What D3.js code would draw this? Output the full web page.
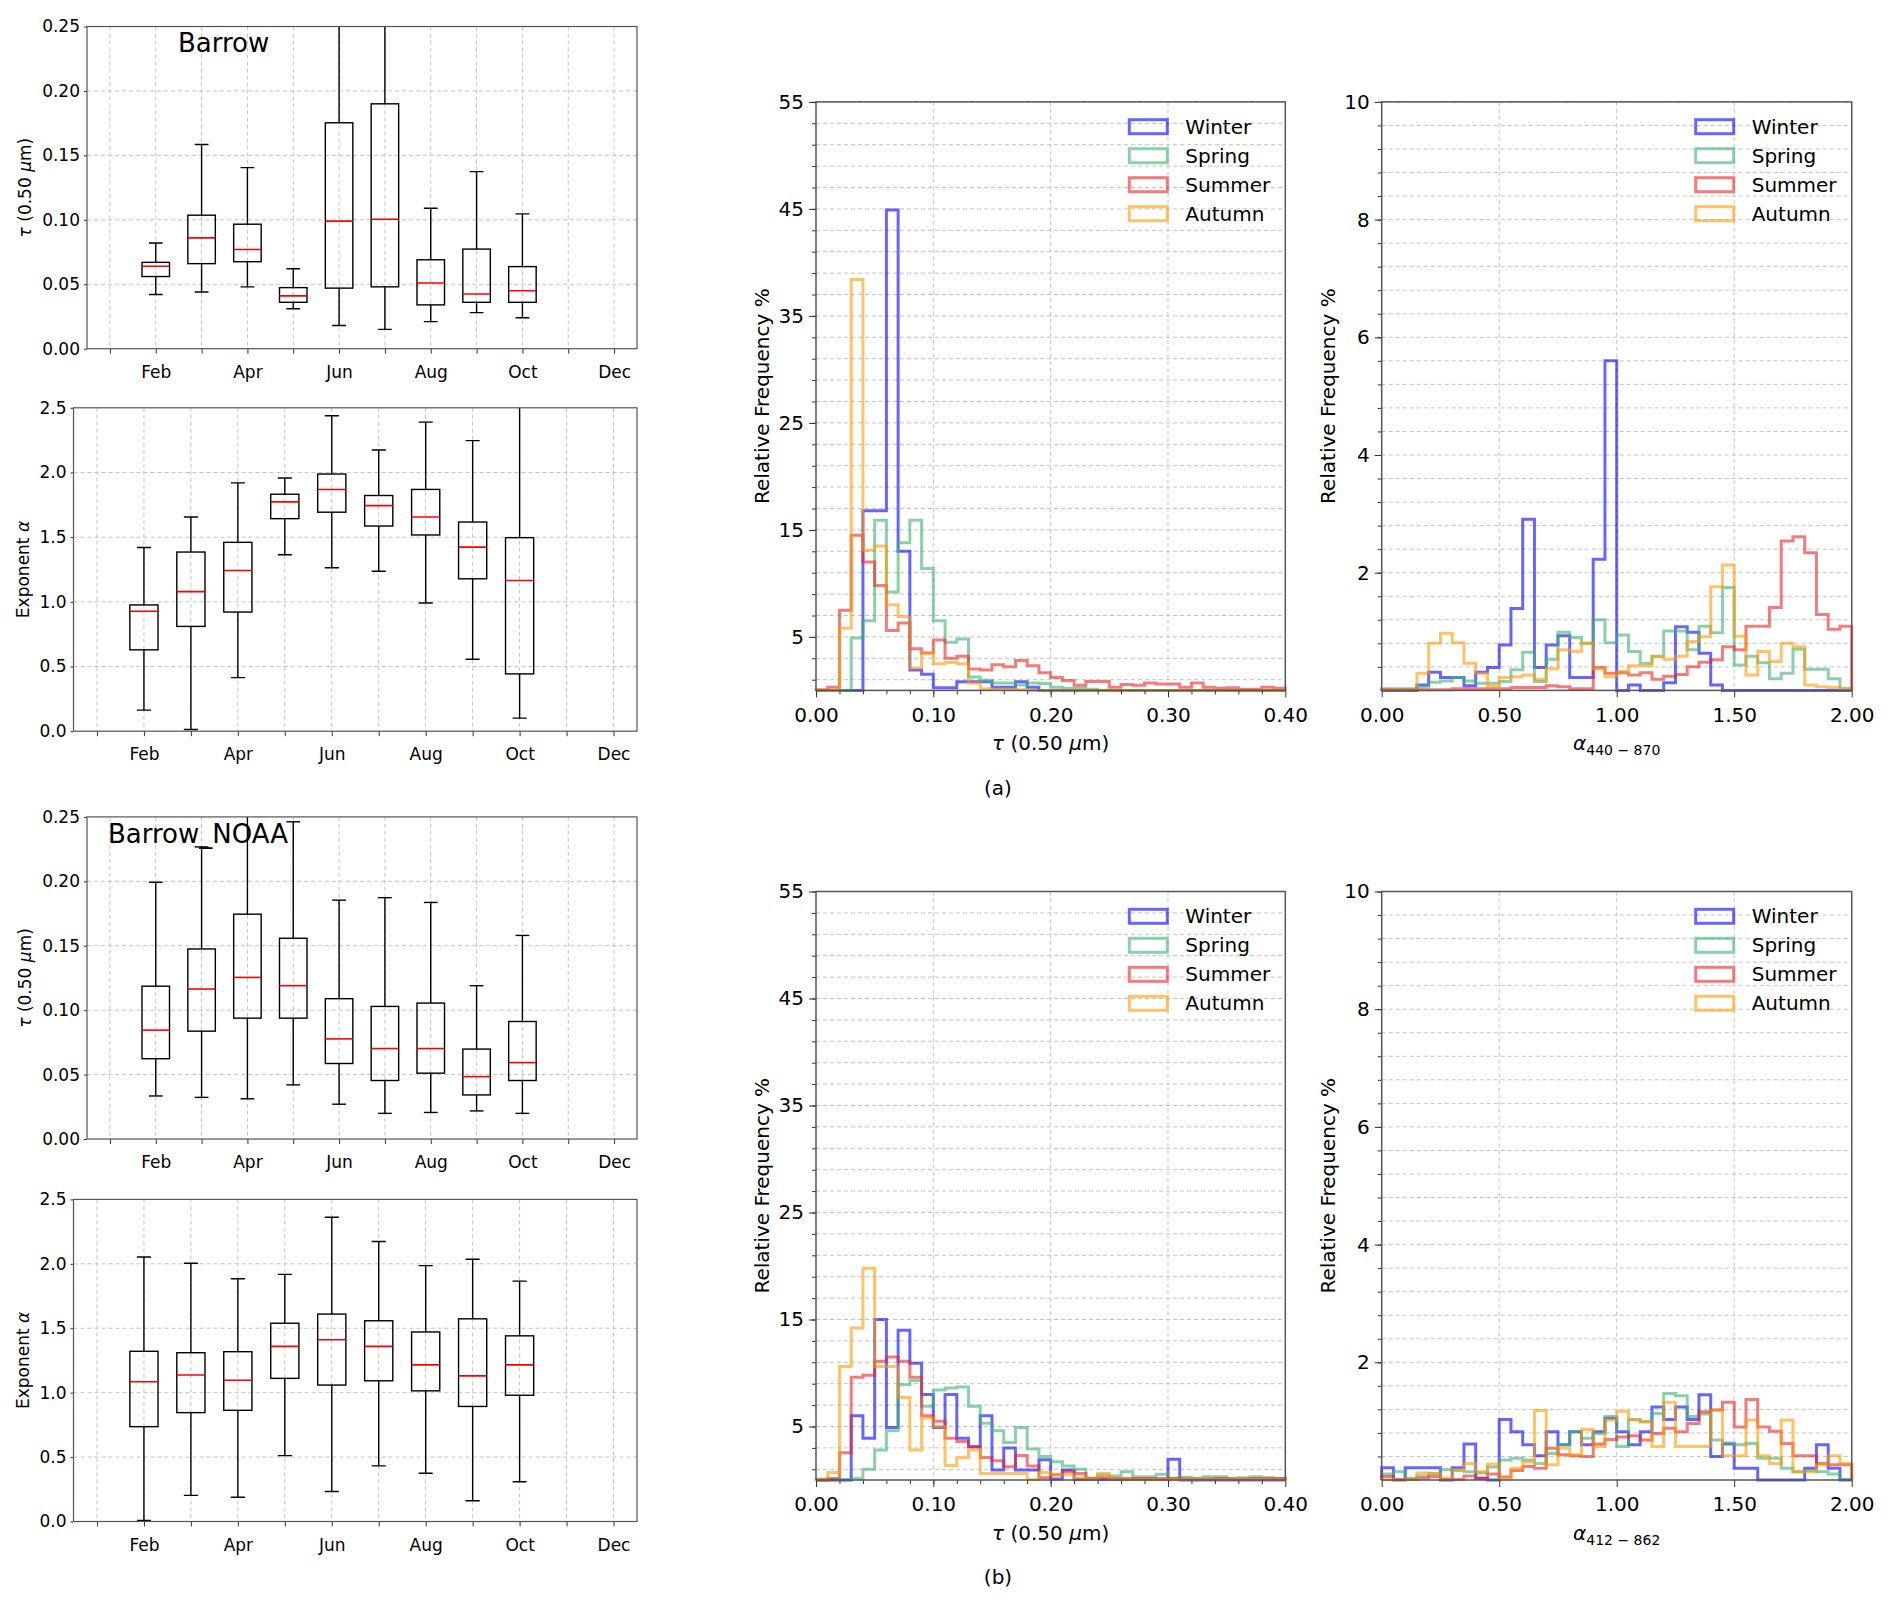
<!DOCTYPE html>
<meta charset="utf-8">
<style>
body { margin: 0; background: #fff; }
text { font-family: "DejaVu Sans", sans-serif; fill: #000; }
.grid line { stroke: #c4c4c4; stroke-dasharray: 4,3; stroke-width: 1; }
.axis path { display: none; }
.axis line { stroke: #333; }
.frame { fill: none; stroke: #555; stroke-width: 1.5; }
</style>
<body>
<script src="https://d3js.org/d3.v7.min.js"></script>
<script>
// ---- box plot data (months Feb..Oct) ----
var boxMonths = [2, 3, 4, 5, 6, 7, 8, 9, 10];
var monthNames = ["Jan","Feb","Mar","Apr","May","Jun","Jul","Aug","Sep","Oct","Nov","Dec"];

var barrowTauLo  = [0.042, 0.044, 0.048, 0.031, 0.018, 0.015, 0.021, 0.028, 0.024];
var barrowTauQ1  = [0.056, 0.066, 0.0675, 0.036, 0.047, 0.048, 0.034, 0.036, 0.036];
var barrowTauMed = [0.064, 0.086, 0.077, 0.041, 0.099, 0.1005, 0.051, 0.0425, 0.045];
var barrowTauQ3  = [0.067, 0.1036, 0.0966, 0.0474, 0.1753, 0.19, 0.069, 0.0773, 0.0637];
var barrowTauHi  = [0.082, 0.1585, 0.1405, 0.062, 0.31, 0.33, 0.109, 0.1374, 0.1046];

var barrowAlpLo  = [0.163, 0.013, 0.414, 1.364, 1.263, 1.237, 0.991, 0.556, 0.101];
var barrowAlpQ1  = [0.629, 0.81, 0.921, 1.643, 1.693, 1.586, 1.517, 1.178, 0.443];
var barrowAlpMed = [0.927, 1.079, 1.242, 1.773, 1.869, 1.744, 1.656, 1.423, 1.165];
var barrowAlpQ3  = [0.976, 1.385, 1.46, 1.832, 1.988, 1.822, 1.869, 1.617, 1.496];
var barrowAlpHi  = [1.42, 1.656, 1.92, 1.957, 2.438, 2.174, 2.389, 2.246, 2.9];

var noaaTauLo  = [0.0334, 0.0323, 0.0312, 0.042, 0.027, 0.0199, 0.0206, 0.0218, 0.0199];
var noaaTauQ1  = [0.0623, 0.0837, 0.0938, 0.0938, 0.0586, 0.0454, 0.0511, 0.0342, 0.0454];
var noaaTauMed = [0.0845, 0.1164, 0.1254, 0.119, 0.0777, 0.0702, 0.0702, 0.0484, 0.0593];
var noaaTauQ3  = [0.1186, 0.1475, 0.1745, 0.1558, 0.1089, 0.1029, 0.1055, 0.0698, 0.0912];
var noaaTauHi  = [0.1993, 0.2267, 0.28, 0.2462, 0.1854, 0.1873, 0.1836, 0.119, 0.158];

var noaaAlpLo  = [0.008, 0.203, 0.188, 0.511, 0.233, 0.432, 0.375, 0.161, 0.308];
var noaaAlpQ1  = [0.736, 0.845, 0.863, 1.111, 1.059, 1.092, 1.014, 0.893, 0.98];
var noaaAlpMed = [1.085, 1.137, 1.096, 1.359, 1.411, 1.359, 1.216, 1.13, 1.216];
var noaaAlpQ3  = [1.321, 1.31, 1.318, 1.539, 1.61, 1.558, 1.471, 1.573, 1.441];
var noaaAlpHi  = [2.053, 2.005, 1.884, 1.918, 2.361, 2.173, 1.986, 2.035, 1.866];

// ---- histogram data, relative frequency %, 40 bins each ----
var seasons = ["Winter", "Spring", "Summer", "Autumn"];

// tau bins of 0.01 from 0 to 0.40, panel (a)
var tauA_winter = [0,0,0,0,16.8,16.8,44.9,13.0,1.9,1.5,0.25,0.25,0.8,0.8,0.8,0.3,0.3,0.8,0.3,0,0,0,0,0,0,0,0,0,0,0,0,0,0,0,0,0,0,0,0,0];
var tauA_spring = [0,0,0,4.9,6.5,15.9,9.2,13.8,15.9,11.4,6.5,4.5,4.8,1.25,0.95,0.7,0.7,0.5,0.7,0.65,0.3,0.2,0.2,0.1,0,0,0,0,0,0,0,0,0,0,0,0,0,0,0,0];
var tauA_summer = [0.05,0.3,7.5,14.5,12.0,9.8,5.6,6.3,3.9,3.5,4.7,3.0,3.2,2.0,1.9,2.4,2.2,2.8,2.3,1.65,1.2,0.93,0.47,0.84,0.84,0.3,0.56,0.47,0.7,0.6,0.6,0.3,0.7,0.3,0.2,0.25,0.1,0.1,0.3,0.2];
var tauA_autumn = [0,0,5.8,38.4,13.1,13.5,8.0,6.9,2.1,3.5,2.5,2.6,2.5,0.7,0.15,0.1,0.1,0.05,0,0,0,0,0,0,0,0,0,0,0,0,0,0,0,0,0,0,0,0,0,0];

// alpha 440-870 bins of 0.05 from 0 to 2, panel (a)
var alpA_winter = [0,0,0,0.09,0.31,0.22,0.22,0.08,0.31,0.39,0.77,1.39,2.91,0.39,0.77,0.93,0.22,0.22,2.23,5.6,0,0.09,0,0,0.13,1.08,0.99,0.63,0.09,0,0,0,0,0,0,0,0,0,0,0];
var alpA_spring = [0.03,0.03,0.03,0.06,0.14,0.16,0.22,0.16,0.12,0.12,0.15,0.35,0.65,0.15,0.53,0.99,0.9,0.8,1.2,0.81,0.94,0.66,0.46,0.58,1.01,1.01,0.69,1.09,0.98,1.75,0.43,0.58,0.47,0.2,0.29,0.7,0.36,0.36,0.2,0.03];
var alpA_summer = [0.01,0.01,0.01,0.01,0.01,0.01,0.03,0.03,0.03,0.03,0.03,0.05,0.05,0.05,0.08,0.06,0.03,0.03,0.39,0.29,0.3,0.26,0.3,0.19,0.24,0.27,0.4,0.48,0.52,0.74,0.69,1.09,1.09,1.41,2.54,2.61,2.34,1.29,1.04,1.09];
var alpA_autumn = [0.01,0.01,0.01,0.29,0.8,0.97,0.81,0.46,0.29,0.07,0.22,0.23,0.26,0.19,0.37,0.69,0.66,0.8,0.37,0.23,0.32,0.42,0.42,0.57,0.53,0.58,0.83,0.91,1.76,2.13,0.92,0.26,0.66,0.49,0.8,0.74,0.09,0.06,0.05,0.03];

// panel (b)
var tauB_winter = [0,0,0,6.0,3.9,15.0,4.9,14.0,10.9,8.0,4.9,8.0,3.9,3.1,6.0,0.93,3.0,0.93,0.93,1.9,0.1,0.93,0.05,0.05,0.05,0.05,0.05,0.05,0.05,0.05,1.93,0,0,0,0,0,0,0,0,0];
var tauB_spring = [0,0,0,0.15,1.0,2.8,4.6,8.9,9.3,6.9,8.4,8.6,8.7,6.9,5.3,4.6,3.5,4.9,2.9,2.2,1.7,1.3,1.0,0.16,0.47,0.37,0.78,0.3,0.3,0.53,0.16,0.25,0.16,0.3,0.3,0.16,0.2,0.3,0.2,0.15];
var tauB_summer = [0,0.15,2.55,9.6,9.8,11.1,11.5,11.1,9.6,6.0,5.5,3.9,3.6,3.1,2.1,1.8,1.25,2.3,1.3,0.2,0.5,0.78,0.6,0.15,0.2,0.15,0.15,0.15,0.15,0.15,0.15,0.1,0.1,0.1,0.15,0.1,0.1,0.15,0.15,0.15];
var tauB_autumn = [0.1,0.7,10.6,14.2,19.8,10.6,10.6,7.7,2.8,5.8,5.0,1.35,2.1,2.8,0.6,0.6,0.6,0.6,0.05,0.7,0.5,0.5,0.2,0.1,0.6,0.1,0.05,0.05,0.05,0.05,0.05,0.05,0.05,0.05,0.05,0.05,0.05,0.05,0.05,0.05];

// alpha 412-862
var alpB_winter = [0.21,0,0.21,0.21,0.21,0,0.21,0.61,0.03,0,1.03,0.82,0.6,0.41,0.82,0.6,0.82,0.6,0.82,1.05,0.82,0.6,0.82,1.24,1.03,1.24,1.03,1.45,0.4,0.61,0.2,0.2,0,0,0,0,0.2,0.6,0.2,0];
var alpB_spring = [0.1,0.14,0.03,0.07,0.11,0.18,0.16,0.14,0.12,0.22,0.34,0.37,0.34,0.28,0.45,0.6,0.82,0.71,0.79,1.08,0.57,1.03,0.99,1.13,1.47,1.43,1.08,1.12,0.68,0.63,0.6,0.62,0.37,0.37,0.2,0.14,0.16,0.14,0.1,0.01];
var alpB_summer = [0.06,0.01,0.01,0.03,0.06,0.01,0.01,0.07,0.03,0.1,0.05,0.16,0.23,0.2,0.54,0.43,0.41,0.4,0.61,0.69,0.73,0.75,0.68,0.79,0.88,0.82,0.96,1.16,1.19,1.32,0.9,1.37,0.9,0.83,0.62,0.41,0.41,0.28,0.26,0.26];
var alpB_autumn = [0.01,0.01,0.01,0.12,0.1,0.03,0.17,0.28,0.14,0.27,0.03,0.2,0.31,1.18,0.26,0.54,0.43,0.86,0.57,1.02,1.17,1.02,0.99,0.57,1.32,0.57,0.57,0.57,1.19,0.41,0.41,1.02,0.41,0.28,1.02,0.14,0.14,0.26,0.41,0.28];

var seasonColors = ["#0000ff", "#3cb371", "#ee2222", "#ff9900"];

var svg = d3.select("body").append("svg")
    .attr("width", 1892)
    .attr("height", 1608);
svg.append("rect").attr("width", 1892).attr("height", 1608).attr("fill", "#fff");

var clipId = 0;

// ---------- box plot panel ----------
function drawBoxPanel(p, lo, q1, med, q3, hi) {
  var x = d3.scaleLinear().domain([0.5, 12.5]).range([p.left, p.right]);
  var y = d3.scaleLinear().domain([0, p.ymax]).range([p.bottom, p.top]);
  var g = svg.append("g");

  // grid
  g.append("g").attr("class", "grid").selectAll("line")
      .data(p.yTicks.slice(1, -1)).join("line")
      .attr("x1", p.left).attr("x2", p.right)
      .attr("y1", d => y(d)).attr("y2", d => y(d));
  g.append("g").attr("class", "grid").selectAll("line")
      .data(d3.range(1, 13)).join("line")
      .attr("x1", d => x(d)).attr("x2", d => x(d))
      .attr("y1", p.top).attr("y2", p.bottom);

  var id = "clip" + (clipId++);
  svg.append("clipPath").attr("id", id).append("rect")
      .attr("x", p.left).attr("y", p.top)
      .attr("width", p.right - p.left).attr("height", p.bottom - p.top);
  var b = g.append("g").attr("clip-path", "url(#" + id + ")");

  var rows = boxMonths.map((m, i) => ({m: m, lo: lo[i], q1: q1[i], med: med[i], q3: q3[i], hi: hi[i]}));
  var bw = 0.3, cw = 0.15;
  var grp = b.selectAll("g.box").data(rows).join("g").attr("class", "box");
  grp.append("line").attr("x1", d => x(d.m)).attr("x2", d => x(d.m))
      .attr("y1", d => y(d.q3)).attr("y2", d => y(d.hi))
      .attr("stroke", "#000").attr("stroke-width", 1.4);
  grp.append("line").attr("x1", d => x(d.m)).attr("x2", d => x(d.m))
      .attr("y1", d => y(d.q1)).attr("y2", d => y(d.lo))
      .attr("stroke", "#000").attr("stroke-width", 1.4);
  grp.append("line").attr("x1", d => x(d.m - cw)).attr("x2", d => x(d.m + cw))
      .attr("y1", d => y(d.hi)).attr("y2", d => y(d.hi))
      .attr("stroke", "#000").attr("stroke-width", 1.4);
  grp.append("line").attr("x1", d => x(d.m - cw)).attr("x2", d => x(d.m + cw))
      .attr("y1", d => y(d.lo)).attr("y2", d => y(d.lo))
      .attr("stroke", "#000").attr("stroke-width", 1.4);
  grp.append("rect").attr("x", d => x(d.m - bw)).attr("width", d => x(d.m + bw) - x(d.m - bw))
      .attr("y", d => y(d.q3)).attr("height", d => y(d.q1) - y(d.q3))
      .attr("fill", "none").attr("stroke", "#000").attr("stroke-width", 1.4);
  grp.append("line").attr("x1", d => x(d.m - bw)).attr("x2", d => x(d.m + bw))
      .attr("y1", d => y(d.med)).attr("y2", d => y(d.med))
      .attr("stroke", "#ff0000").attr("stroke-width", 1.6);

  // axes
  var ax = g.append("g").attr("class", "axis")
      .attr("transform", "translate(0," + p.bottom + ")")
      .call(d3.axisBottom(x).tickValues(d3.range(1, 13))
        .tickFormat(m => m % 2 === 0 ? monthNames[m - 1] : "")
        .tickSize(5).tickPadding(12));
  ax.selectAll("text").style("font-size", "17px");
  var ay = g.append("g").attr("class", "axis")
      .attr("transform", "translate(" + p.left + ",0)")
      .call(d3.axisLeft(y).tickValues(p.yTicks).tickFormat(d3.format(p.fmt))
        .tickSize(3).tickPadding(4));
  ay.selectAll("text").style("font-size", "17px");

  g.append("rect").attr("class", "frame")
      .attr("x", p.left).attr("y", p.top)
      .attr("width", p.right - p.left).attr("height", p.bottom - p.top)
      .style("stroke-width", 1.2);

  var yl = g.append("text")
      .attr("transform", "translate(" + p.ylabX + "," + ((p.top + p.bottom) / 2) + ") rotate(-90)")
      .attr("text-anchor", "middle").style("font-size", "17px");
  p.ylabParts.forEach(function (s) {
    yl.append("tspan").style("font-style", s[1] ? "italic" : "normal").text(s[0]);
  });

  if (p.title) {
    g.append("text").attr("x", p.titleX).attr("y", p.titleY)
      .style("font-size", "26px").text(p.title);
  }
}

var tauLab = [["τ", true], [" (0.50 ", false], ["μ", true], ["m)", false]];
var alpLab = [["Exponent ", false], ["α", true]];
var tauTicks = [0, 0.05, 0.10, 0.15, 0.20, 0.25];
var alpTicks = [0, 0.5, 1.0, 1.5, 2.0, 2.5];

drawBoxPanel({left: 87, right: 637, top: 26.5, bottom: 348.7, ymax: 0.25, yTicks: tauTicks, fmt: ".2f",
  ylabX: 31, ylabParts: tauLab, title: "Barrow", titleX: 178, titleY: 52},
  barrowTauLo, barrowTauQ1, barrowTauMed, barrowTauQ3, barrowTauHi);
drawBoxPanel({left: 73.5, right: 637, top: 407.8, bottom: 731.2, ymax: 2.5, yTicks: alpTicks, fmt: ".1f",
  ylabX: 29, ylabParts: alpLab},
  barrowAlpLo, barrowAlpQ1, barrowAlpMed, barrowAlpQ3, barrowAlpHi);
drawBoxPanel({left: 87, right: 637, top: 816.9, bottom: 1139, ymax: 0.25, yTicks: tauTicks, fmt: ".2f",
  ylabX: 31, ylabParts: tauLab, title: "Barrow_NOAA", titleX: 108, titleY: 843},
  noaaTauLo, noaaTauQ1, noaaTauMed, noaaTauQ3, noaaTauHi);
drawBoxPanel({left: 73.5, right: 637, top: 1199.4, bottom: 1521.5, ymax: 2.5, yTicks: alpTicks, fmt: ".1f",
  ylabX: 29, ylabParts: alpLab},
  noaaAlpLo, noaaAlpQ1, noaaAlpMed, noaaAlpQ3, noaaAlpHi);

// ---------- histogram panel ----------
function drawHist(p, series) {
  var x = d3.scaleLinear().domain([0, p.xmax]).range([p.left, p.right]);
  var y = d3.scaleLinear().domain([0, p.ymax]).range([p.bottom, p.top]);
  var g = svg.append("g");

  g.append("g").attr("class", "grid").selectAll("line")
      .data(p.yGrid).join("line")
      .attr("x1", p.left).attr("x2", p.right)
      .attr("y1", d => y(d)).attr("y2", d => y(d));
  g.append("g").attr("class", "grid").selectAll("line")
      .data(p.xTicks.slice(1, -1)).join("line")
      .attr("x1", d => x(d)).attr("x2", d => x(d))
      .attr("y1", p.top).attr("y2", p.bottom);

  var bw = p.xmax / 40;
  var line = d3.line().x(d => x(d[0])).y(d => y(d[1]));
  series.forEach(function (vals, k) {
    var pts = [[0, 0]];
    vals.forEach(function (v, i) { pts.push([i * bw, v], [(i + 1) * bw, v]); });
    pts.push([vals.length * bw, 0]);
    g.append("path").attr("d", line(pts))
      .attr("fill", "none").attr("stroke", seasonColors[k])
      .attr("stroke-opacity", 0.6).attr("stroke-width", 3);
  });

  // minor ticks
  g.append("g").attr("class", "axis")
      .attr("transform", "translate(" + p.left + ",0)")
      .call(d3.axisLeft(y).tickValues(p.yGrid).tickFormat("").tickSize(4));
  if (p.xMinor) {
    g.append("g").attr("class", "axis")
      .attr("transform", "translate(0," + p.bottom + ")")
      .call(d3.axisBottom(x).tickValues(p.xMinor).tickFormat("").tickSize(4));
  }
  var ax = g.append("g").attr("class", "axis")
      .attr("transform", "translate(0," + p.bottom + ")")
      .call(d3.axisBottom(x).tickValues(p.xTicks).tickFormat(d3.format(".2f")).tickSize(7).tickPadding(10));
  ax.selectAll("text").style("font-size", "20px");
  var ay = g.append("g").attr("class", "axis")
      .attr("transform", "translate(" + p.left + ",0)")
      .call(d3.axisLeft(y).tickValues(p.yTicks).tickFormat(d3.format("d")).tickSize(7).tickPadding(5));
  ay.selectAll("text").style("font-size", "20px");

  g.append("rect").attr("class", "frame")
      .attr("x", p.left).attr("y", p.top)
      .attr("width", p.right - p.left).attr("height", p.bottom - p.top);

  // legend
  seasons.forEach(function (s, k) {
    var cy = p.top + 24.8 + k * 29;
    g.append("rect").attr("x", p.right - 156).attr("y", cy - 7)
      .attr("width", 38).attr("height", 14)
      .attr("fill", "none").attr("stroke", seasonColors[k])
      .attr("stroke-opacity", 0.6).attr("stroke-width", 3);
    g.append("text").attr("x", p.right - 100).attr("y", cy + 7)
      .style("font-size", "20px").text(s);
  });

  g.append("text")
    .attr("transform", "translate(" + (p.left - 47) + "," + ((p.top + p.bottom) / 2) + ") rotate(-90)")
    .attr("text-anchor", "middle").style("font-size", "20px")
    .text("Relative Frequency %");

  var xl = g.append("text").attr("x", (p.left + p.right) / 2).attr("y", p.bottom + 60)
    .attr("text-anchor", "middle").style("font-size", "20px");
  p.xlabParts.forEach(function (s) {
    var t = xl.append("tspan").style("font-style", s[1] ? "italic" : "normal").text(s[0]);
    if (s[2]) t.style("font-size", "14px").attr("dy", 5);
  });
}

var tauHistTicks = [0, 0.1, 0.2, 0.3, 0.4];
var tauHistMinor = d3.range(0.02, 0.4, 0.02);
var alpHistTicks = [0, 0.5, 1.0, 1.5, 2.0];
var tauFreqTicks = [5, 15, 25, 35, 45, 55];
var tauFreqGrid = d3.range(1, 56, 2);
var alpFreqTicks = [2, 4, 6, 8, 10];
var alpFreqGrid = d3.range(1, 26).map(d => d * 0.4);

var tauXLab = [["τ", true], [" (0.50 ", false], ["μ", true], ["m)", false]];

drawHist({left: 816, right: 1285.3, top: 101.9, bottom: 690.4, xmax: 0.4, ymax: 55,
  xTicks: tauHistTicks, xMinor: tauHistMinor, yTicks: tauFreqTicks, yGrid: tauFreqGrid, xlabParts: tauXLab},
  [tauA_winter, tauA_spring, tauA_summer, tauA_autumn]);
drawHist({left: 1381.7, right: 1851.7, top: 101.9, bottom: 690.4, xmax: 2.0, ymax: 10,
  xTicks: alpHistTicks, yTicks: alpFreqTicks, yGrid: alpFreqGrid,
  xlabParts: [["α", true], ["440 − 870", false, true]]},
  [alpA_winter, alpA_spring, alpA_summer, alpA_autumn]);
drawHist({left: 816, right: 1285.3, top: 891.5, bottom: 1480, xmax: 0.4, ymax: 55,
  xTicks: tauHistTicks, xMinor: tauHistMinor, yTicks: tauFreqTicks, yGrid: tauFreqGrid, xlabParts: tauXLab},
  [tauB_winter, tauB_spring, tauB_summer, tauB_autumn]);
drawHist({left: 1381.7, right: 1851.7, top: 891.5, bottom: 1480, xmax: 2.0, ymax: 10,
  xTicks: alpHistTicks, yTicks: alpFreqTicks, yGrid: alpFreqGrid,
  xlabParts: [["α", true], ["412 − 862", false, true]]},
  [alpB_winter, alpB_spring, alpB_summer, alpB_autumn]);

svg.append("text").attr("x", 998).attr("y", 795).attr("text-anchor", "middle")
  .style("font-size", "20px").text("(a)");
svg.append("text").attr("x", 998).attr("y", 1584).attr("text-anchor", "middle")
  .style("font-size", "20px").text("(b)");
</script>
</body>
